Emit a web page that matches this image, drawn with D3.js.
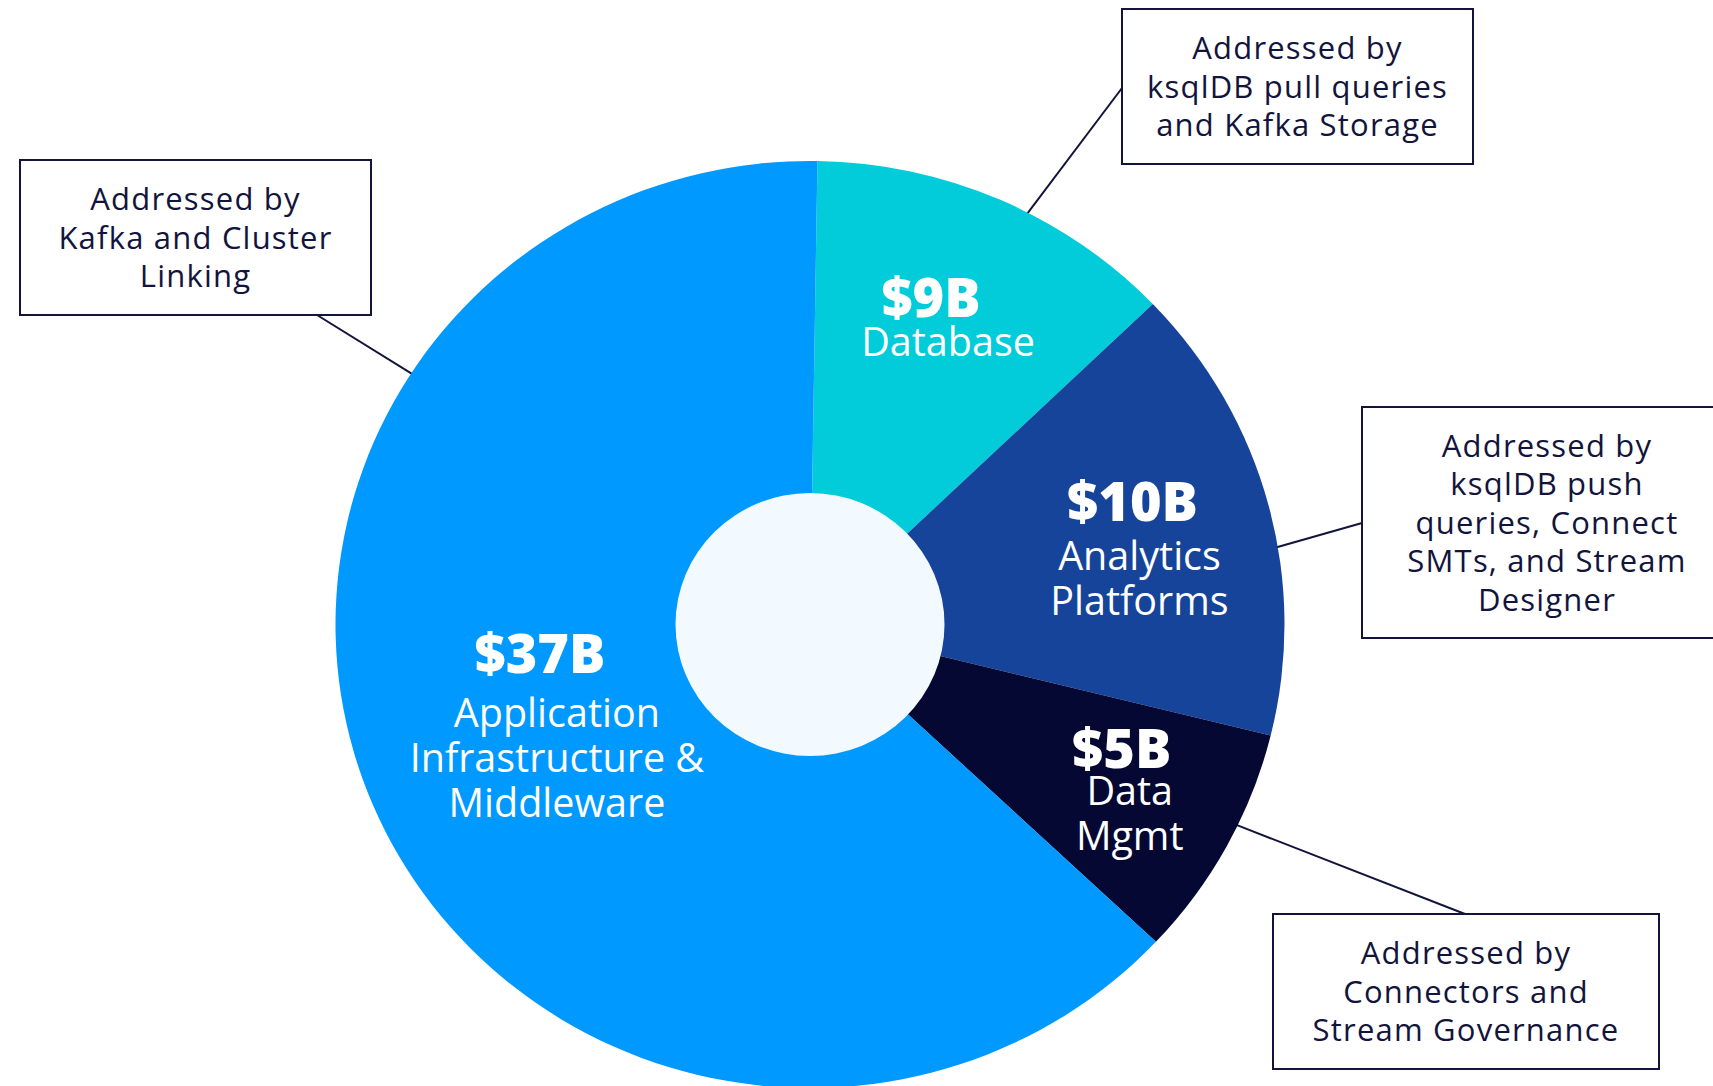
<!DOCTYPE html>
<html>
<head>
<meta charset="utf-8">
<script src="https://cdn.jsdelivr.net/npm/d3@7"></script>
<style>
  body { margin: 0; background: #fff; }
  svg { display: block; }
  text { font-family: "Open Sans", "DejaVu Sans", sans-serif; }
</style>
</head>
<body>
<div id="chart"></div>
<script>
// slices, clockwise from the top
const categories = ["Database", "Analytics Platforms", "Data Mgmt", "Application Infrastructure & Middleware"];
const categoryLines = [
  ["Database"],
  ["Analytics", "Platforms"],
  ["Data", "Mgmt"],
  ["Application", "Infrastructure &", "Middleware"],
];
const amounts = ["$9B", "$10B", "$5B", "$37B"];
// share of the circle each slice takes in the picture (percent)
const sliceShare = [12.6, 16.0, 8.15, 63.25];
const sliceColors = ["#02ccd9", "#15449a", "#040832", "#0099ff"];

// callout boxes
const noteLines = [
  ["Addressed by", "ksqlDB pull queries", "and Kafka Storage"],
  ["Addressed by", "ksqlDB push", "queries, Connect", "SMTs, and Stream", "Designer"],
  ["Addressed by", "Connectors and", "Stream Governance"],
  ["Addressed by", "Kafka and Cluster", "Linking"],
];
// angle (deg from top) where each callout's leader touches the pie edge
const noteAngles = [27.3, 80.4, 115.7, 302.8];

const width = 1713;
const height = 1086;
const cx = 810;
const cy = 624.5;
const radius = 474.5;
const holeRadius = 134.5;
const squash = 0.977; // the picture is a little flattened vertically
const ink = "#12143c";
const rad = (deg) => (deg * Math.PI) / 180;

// where the label block of each slice sits, relative to a point on its mid angle
const labelRadius = 340;
const amountNudge = [[-15, -3], [-6, -18], [13, -15], [43, -81]];
const lineNudge = [[2, 36], [1, 31], [21, 22], [60, -27]];

// callout boxes: box rect and the point where the leader leaves it
const boxes = [
  { x: 1122, y: 9, w: 351, h: 155, ax: 1122, ay: 88 },
  { x: 1362, y: 407, w: 370, h: 231, ax: 1362, ay: 523 },
  { x: 1273, y: 914, w: 386, h: 155, ax: 1465, ay: 914 },
  { x: 20, y: 160, w: 351, h: 155, ax: 317, ay: 315 },
];

const polar = (deg, r) => [
  cx + r * Math.sin(rad(deg)),
  cy - r * Math.cos(rad(deg)) * squash,
];

const svg = d3
  .select("#chart")
  .append("svg")
  .attr("width", width)
  .attr("height", height);

const slices = categories.map((c, i) => ({
  name: c,
  share: sliceShare[i],
  color: sliceColors[i],
  amount: amounts[i],
  lines: categoryLines[i],
  i: i,
}));

const pie = d3
  .pie()
  .sort(null)
  .value((d) => d.share)
  .startAngle(rad(0.9))
  .endAngle(rad(360.9));
const arcs = pie(slices);
const arc = d3.arc().innerRadius(0).outerRadius(radius);

// leader lines first so the pie covers their ends
const leaders = svg.append("g");
boxes.forEach((b, i) => {
  const [ex, ey] = polar(noteAngles[i], radius - 2);
  leaders
    .append("line")
    .attr("x1", b.ax)
    .attr("y1", b.ay)
    .attr("x2", ex)
    .attr("y2", ey)
    .attr("stroke", ink)
    .attr("stroke-width", 2);
});

const pieG = svg
  .append("g")
  .attr("transform", `translate(${cx},${cy}) scale(1,${squash})`);
pieG
  .selectAll("path")
  .data(arcs)
  .join("path")
  .attr("d", arc)
  .attr("fill", (d) => d.data.color);
pieG.append("circle").attr("r", holeRadius).attr("fill", "#f3faff");

// slice labels
const labels = svg.append("g").attr("fill", "#fff").attr("text-anchor", "middle");
arcs.forEach((a) => {
  const mid = ((a.startAngle + a.endAngle) / 2) * (180 / Math.PI);
  const [px, py] = polar(mid, labelRadius);
  const i = a.data.i;
  labels
    .append("text")
    .attr("x", px + amountNudge[i][0])
    .attr("y", py + amountNudge[i][1])
    .attr("font-size", 54)
    .attr("font-weight", 800)
    .text(a.data.amount);
  const t = labels
    .append("text")
    .attr("font-size", 39.5)
    .attr("font-weight", 400);
  a.data.lines.forEach((ln, k) => {
    t.append("tspan")
      .attr("x", px + lineNudge[i][0])
      .attr("y", py + lineNudge[i][1] + k * 45)
      .text(ln);
  });
});

// callout boxes
const notes = svg.append("g");
boxes.forEach((b, i) => {
  notes
    .append("rect")
    .attr("x", b.x)
    .attr("y", b.y)
    .attr("width", b.w)
    .attr("height", b.h)
    .attr("fill", "#fff")
    .attr("stroke", ink)
    .attr("stroke-width", 2);
  const lines = noteLines[i];
  const lineH = 38.5;
  const firstBase = b.y + b.h / 2 - ((lines.length - 1) * lineH) / 2 + 11;
  const t = notes
    .append("text")
    .attr("text-anchor", "middle")
    .attr("fill", ink)
    .attr("font-size", 31)
    .attr("letter-spacing", 1.2);
  lines.forEach((ln, k) => {
    t.append("tspan")
      .attr("x", b.x + b.w / 2)
      .attr("y", firstBase + k * lineH)
      .text(ln);
  });
});
</script>
</body>
</html>
